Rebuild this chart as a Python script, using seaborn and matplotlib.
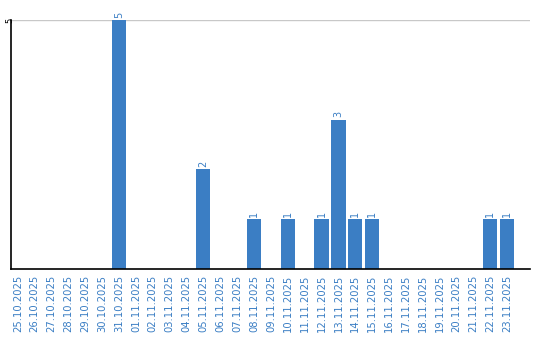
import matplotlib
matplotlib.use("Agg")
import matplotlib.pyplot as plt
import seaborn as sns
import pandas as pd

dates = ["25.10.2025", "26.10.2025", "27.10.2025", "28.10.2025", "29.10.2025",
         "30.10.2025", "31.10.2025", "01.11.2025", "02.11.2025", "03.11.2025",
         "04.11.2025", "05.11.2025", "06.11.2025", "07.11.2025", "08.11.2025",
         "09.11.2025", "10.11.2025", "11.11.2025", "12.11.2025", "13.11.2025",
         "14.11.2025", "15.11.2025", "16.11.2025", "17.11.2025", "18.11.2025",
         "19.11.2025", "20.11.2025", "21.11.2025", "22.11.2025", "23.11.2025"]
counts = [0, 0, 0, 0, 0, 0, 5, 0, 0, 0,
          0, 2, 0, 0, 1, 0, 1, 0, 1, 3,
          1, 1, 0, 0, 0, 0, 0, 0, 1, 1]

df = pd.DataFrame({"date": dates, "count": counts})
blue = "#3b7ec4"

sns.set_style("white")
fig = plt.figure(figsize=(5.4, 3.4), dpi=100)
ax = fig.add_axes([11/540, 1 - 269/340, 519/540, 249/340])
sns.barplot(data=df, x="date", y="count", order=dates, color=blue,
            saturation=1, width=0.84, linewidth=0, ax=ax)

for i, v in enumerate(counts):
    if v > 0:
        ax.text(i, v + 0.05, str(v), rotation=90, ha="center", va="bottom",
                fontsize=7, color=blue)

ax.set_ylim(0, 5)
ax.set_xlim(-0.4, 30.35)
ax.set_yticks([5])
ax.set_yticklabels(["5"], rotation=90, va="center", ha="center", fontsize=6, color="black")
ax.axhline(5, color="#c8c8c8", lw=1, zorder=0)
ax.tick_params(axis="y", length=0, pad=0.5)
ax.tick_params(axis="x", length=0, pad=4)
ax.set_xticks(range(len(dates)))
ax.set_xticklabels(dates, rotation=90, fontsize=7.2, color=blue)
ax.set_xlabel("")
ax.set_ylabel("")
for s in ["top", "right"]:
    ax.spines[s].set_visible(False)
for s in ["left", "bottom"]:
    ax.spines[s].set_color("black")
    ax.spines[s].set_linewidth(1.2)

fig.savefig("out.png", dpi=100)
